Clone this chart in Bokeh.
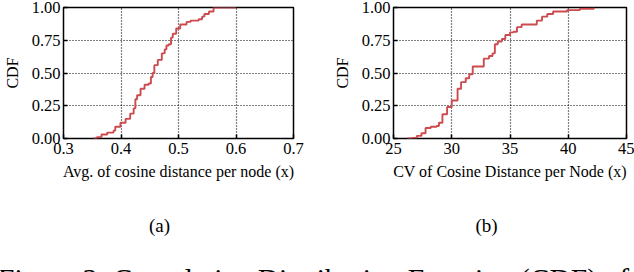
from bokeh.plotting import figure
from bokeh.layouts import row, column
from bokeh.models import FixedTicker, Label, Range1d
from bokeh.embed import file_html
from bokeh.resources import INLINE

# ---- data ----
avg_x = [0.352, 0.358, 0.366, 0.376, 0.387, 0.390, 0.399, 0.408, 0.416, 0.422, 0.425,
         0.428, 0.434, 0.441, 0.448, 0.452, 0.455, 0.458, 0.464, 0.471, 0.476, 0.479,
         0.483, 0.487, 0.490, 0.496, 0.503, 0.514, 0.521, 0.535, 0.541, 0.545, 0.553,
         0.561, 0.600]
avg_cdf = [0.00, 0.01, 0.03, 0.045, 0.06, 0.09, 0.12, 0.15, 0.19, 0.23, 0.30,
           0.33, 0.38, 0.41, 0.42, 0.47, 0.50, 0.56, 0.60, 0.65, 0.68, 0.71,
           0.72, 0.77, 0.80, 0.84, 0.87, 0.89, 0.90, 0.91, 0.93, 0.95, 0.97,
           1.00, 1.00]

cv_x = [26.2, 26.6, 27.0, 27.4, 27.75, 28.2, 28.7, 28.9, 29.2, 29.6, 30.0, 30.5,
        30.8, 31.2, 31.5, 31.8, 32.3, 32.75, 33.2, 33.5, 33.7, 33.95, 34.3, 34.6,
        35.0, 35.3, 35.6, 36.0, 36.9, 37.3, 37.75, 38.2, 38.7, 39.9, 41.0, 42.2]
cv_cdf = [0.0, 0.005, 0.02, 0.04, 0.08, 0.09, 0.095, 0.12, 0.185, 0.24, 0.29, 0.38,
          0.43, 0.46, 0.49, 0.55, 0.55, 0.61, 0.63, 0.65, 0.72, 0.74, 0.76, 0.79,
          0.81, 0.815, 0.85, 0.87, 0.87, 0.90, 0.93, 0.95, 0.97, 0.98, 0.99, 1.0]

avg_ticks = [0.3, 0.4, 0.5, 0.6, 0.7]
avg_tick_labels = ["0.3", "0.4", "0.5", "0.6", "0.7"]
cv_ticks = [25, 30, 35, 40, 45]
cv_tick_labels = ["25", "30", "35", "40", "45"]
y_ticks = [0.0, 0.25, 0.5, 0.75, 1.0]
y_tick_labels = ["0.00", "0.25", "0.50", "0.75", "1.00"]

LINE = "#cc4b4f"
FONT = "Liberation Serif"


def make_panel(xs, ys, xt, xtl, xlabel, width, bl, br, xr):
    p = figure(width=width, height=190, output_backend="svg", toolbar_location=None,
               x_range=Range1d(*xr), y_range=Range1d(0, 1),
               min_border_left=bl, min_border_right=br, min_border_top=7,
               min_border_bottom=52)
    p.step(xs, ys, mode="after", line_color=LINE, line_width=1.9)
    p.outline_line_color = "black"
    p.outline_line_width = 1.5
    p.background_fill_color = "white"
    p.border_fill_color = "white"
    p.xaxis.ticker = FixedTicker(ticks=xt)
    p.xaxis.major_label_overrides = {t: l for t, l in zip(xt, xtl)}
    p.yaxis.ticker = FixedTicker(ticks=y_ticks)
    p.yaxis.major_label_overrides = {t: l for t, l in zip(y_ticks, y_tick_labels)}
    for ax in (p.xaxis[0], p.yaxis[0]):
        ax.axis_line_color = None
        ax.major_tick_in = 4
        ax.major_tick_out = 0
        ax.major_tick_line_color = "black"
        ax.major_tick_line_width = 1.5
        ax.minor_tick_line_color = None
        ax.major_label_text_font = FONT
        ax.major_label_text_font_size = "16.5px"
        ax.major_label_text_color = "black"
        ax.axis_label_text_font = FONT
        ax.axis_label_text_font_size = "16px"
        ax.axis_label_text_font_style = "normal"
        ax.axis_label_text_color = "black"
    p.xaxis.major_label_standoff = 4
    p.yaxis.major_label_standoff = 3
    p.xaxis.axis_label = xlabel
    p.yaxis.axis_label = "CDF"
    p.xaxis.axis_label_standoff = 6
    p.yaxis.axis_label_standoff = 8
    p.grid.grid_line_color = "black"
    p.grid.grid_line_dash = "1 2"
    p.grid.grid_line_width = 1.2
    p.xgrid.ticker = FixedTicker(ticks=xt[1:-1])
    p.ygrid.ticker = FixedTicker(ticks=y_ticks[1:-1])
    return p


p1 = make_panel(avg_x, avg_cdf, avg_ticks, avg_tick_labels,
                "Avg. of cosine distance per node (x)", 328, 63, 35, (0.3, 0.7))
p2 = make_panel(cv_x, cv_cdf, cv_ticks, cv_tick_labels,
                "CV of Cosine Distance per Node (x)", 306, 65, 8, (25, 45))

cap = figure(width=634, height=82, output_backend="svg", toolbar_location=None,
             x_range=Range1d(0, 634), y_range=Range1d(0, 82),
             min_border=0, outline_line_color=None)
cap.axis.visible = False
cap.grid.visible = False
for txt, xc in (("(a)", 159), ("(b)", 486)):
    cap.add_layout(Label(x=xc, y=47, x_units="screen", y_units="screen", text=txt,
                         text_font=FONT, text_font_size="19px", text_align="center",
                         text_baseline="middle", text_color="black"))
cap.add_layout(Label(x=313, y=-6, x_units="screen", y_units="screen",
                     text="Figure 3: Cumulative Distribution Function (CDF) of",
                     text_font=FONT, text_font_size="29.5px", text_align="center",
                     text_baseline="alphabetic", text_color="black"))

layout = column(row(p1, p2, spacing=0), cap, spacing=0)

open("out.html", "w").write(file_html(layout, INLINE))
